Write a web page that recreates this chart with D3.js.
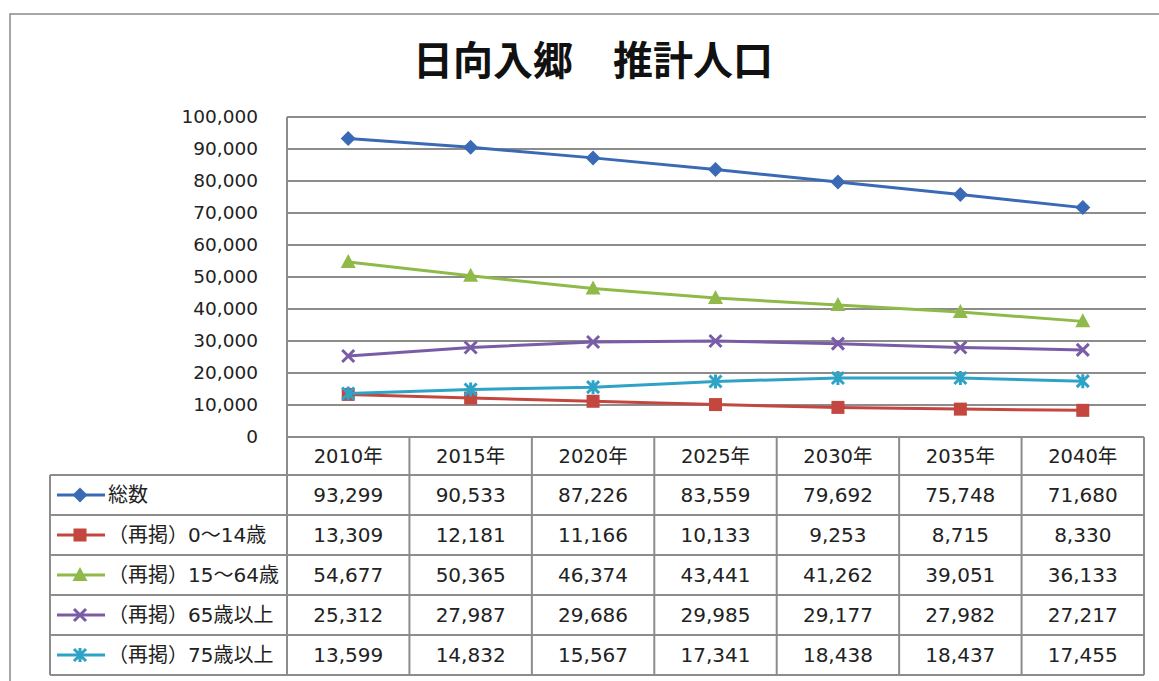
<!DOCTYPE html>
<html>
<head>
<meta charset="utf-8">
<script src="https://cdn.jsdelivr.net/npm/d3@7"></script>
<style>
  body { margin: 0; background: #fff; }
  svg { display: block; font-family: "DejaVu Sans", "Noto Sans CJK JP", sans-serif; }
</style>
</head>
<body>
<div id="chart"></div>
<script>
// data
const years = ["2010年", "2015年", "2020年", "2025年", "2030年", "2035年", "2040年"];
const seriesNames = ["総数", "（再掲）0～14歳", "（再掲）15～64歳", "（再掲）65歳以上", "（再掲）75歳以上"];
const total = [93299, 90533, 87226, 83559, 79692, 75748, 71680];
const age0to14 = [13309, 12181, 11166, 10133, 9253, 8715, 8330];
const age15to64 = [54677, 50365, 46374, 43441, 41262, 39051, 36133];
const age65plus = [25312, 27987, 29686, 29985, 29177, 27982, 27217];
const age75plus = [13599, 14832, 15567, 17341, 18438, 18437, 17455];
const yTicks = [0, 10000, 20000, 30000, 40000, 50000, 60000, 70000, 80000, 90000, 100000];

const colors = ["#3a6ab5", "#c4473f", "#8fba4a", "#7a5ca6", "#2ea3c6"];
const markers = ["diamond", "square", "triangle", "x", "star"];
const values = [total, age0to14, age15to64, age65plus, age75plus];

const width = 1159, height = 681;
const svg = d3.select("#chart").append("svg")
    .attr("width", width)
    .attr("height", height);

// outer frame (runs off the page right and bottom)
svg.append("path")
    .attr("d", "M10,681 L10,14 L1159,14")
    .attr("fill", "none")
    .attr("stroke", "#8a8a8a")
    .attr("stroke-width", 1.5);

// title
svg.append("text")
    .attr("x", 593)
    .attr("y", 75)
    .attr("text-anchor", "middle")
    .attr("font-size", 40)
    .attr("font-weight", "bold")
    .attr("font-family", "'Noto Sans CJK JP', sans-serif")
    .attr("fill", "#111")
    .text("日向入郷　推計人口");

// scales
const plotLeft = 287, plotRight = 1144, plotTop = 117, plotBottom = 437;
const x = d3.scaleBand().domain(years).range([plotLeft, plotRight]);
const y = d3.scaleLinear().domain([0, 100000]).range([plotBottom, plotTop]);
const cx = (i) => x(years[i]) + x.bandwidth() / 2;

// gridlines
svg.append("g")
    .selectAll("line")
    .data(yTicks.filter(d => d > 0))
    .join("line")
    .attr("x1", plotLeft)
    .attr("x2", plotRight + 2)
    .attr("y1", d => y(d))
    .attr("y2", d => y(d))
    .attr("stroke", "#8c8c8c")
    .attr("stroke-width", 2);

// left border of plot
svg.append("line")
    .attr("x1", plotLeft).attr("x2", plotLeft)
    .attr("y1", plotTop).attr("y2", plotBottom)
    .attr("stroke", "#8c8c8c")
    .attr("stroke-width", 2);

// y axis labels
const yAxis = svg.append("g")
    .attr("transform", `translate(${plotLeft - 29},0)`)
    .call(d3.axisLeft(y).tickValues(yTicks).tickSize(0).tickFormat(d3.format(",")));
yAxis.select(".domain").remove();
yAxis.selectAll("text")
    .attr("x", 0)
    .attr("font-size", 18.5)
    .attr("font-family", "'DejaVu Sans', sans-serif")
    .attr("fill", "#222");

// marker drawing
function drawMarker(g, type, color) {
  if (type === "diamond") {
    g.append("path").attr("d", "M0,-7.5 L7.5,0 L0,7.5 L-7.5,0 Z").attr("fill", color);
  } else if (type === "square") {
    g.append("rect").attr("x", -6.5).attr("y", -6.5).attr("width", 13).attr("height", 13).attr("fill", color);
  } else if (type === "triangle") {
    g.append("path").attr("d", "M0,-8 L7.5,6 L-7.5,6 Z").attr("fill", color);
  } else if (type === "x") {
    g.append("path").attr("d", "M-6,-6 L6,6 M-6,6 L6,-6")
      .attr("stroke", color).attr("stroke-width", 3).attr("fill", "none");
  } else if (type === "star") {
    g.append("path").attr("d", "M-6,-6 L6,6 M-6,6 L6,-6 M0,-7 L0,7")
      .attr("stroke", color).attr("stroke-width", 3).attr("fill", "none");
  }
}

// series lines + markers
const line = d3.line()
    .x((d, i) => cx(i))
    .y(d => y(d));

values.forEach((vals, s) => {
  svg.append("path")
      .datum(vals)
      .attr("fill", "none")
      .attr("stroke", colors[s])
      .attr("stroke-width", 3)
      .attr("d", line);
  vals.forEach((v, i) => {
    const g = svg.append("g").attr("transform", `translate(${cx(i)},${y(v)})`);
    drawMarker(g, markers[s], colors[s]);
  });
});

// data table
const tableLeft = 50, headerBottom = 475, rowH = 40;
const tg = svg.append("g").attr("stroke", "#8c8c8c").attr("stroke-width", 2);

// header row (only across category columns)
tg.append("line").attr("x1", plotLeft).attr("x2", plotRight).attr("y1", plotBottom).attr("y2", plotBottom);
// row lines
for (let r = 0; r <= seriesNames.length; r++) {
  const yy = headerBottom + r * rowH;
  tg.append("line").attr("x1", tableLeft).attr("x2", plotRight).attr("y1", yy).attr("y2", yy);
}
// vertical lines
tg.append("line").attr("x1", tableLeft).attr("x2", tableLeft)
    .attr("y1", headerBottom).attr("y2", headerBottom + seriesNames.length * rowH);
years.forEach((yr, i) => {
  tg.append("line").attr("x1", x(yr)).attr("x2", x(yr))
      .attr("y1", plotBottom).attr("y2", headerBottom + seriesNames.length * rowH);
});
tg.append("line").attr("x1", plotRight).attr("x2", plotRight)
    .attr("y1", plotBottom).attr("y2", headerBottom + seriesNames.length * rowH);

// header labels
svg.append("g")
    .selectAll("text")
    .data(years)
    .join("text")
    .attr("x", (d, i) => cx(i))
    .attr("y", (plotBottom + headerBottom) / 2 + 7)
    .attr("text-anchor", "middle")
    .attr("font-size", 19.5)
    .attr("fill", "#222")
    .text(d => d);

// rows
const fmt = d3.format(",");
seriesNames.forEach((name, s) => {
  const rowY = headerBottom + s * rowH + rowH / 2;
  // legend key
  svg.append("line")
      .attr("x1", 57).attr("x2", 105)
      .attr("y1", rowY).attr("y2", rowY)
      .attr("stroke", colors[s]).attr("stroke-width", 3);
  const g = svg.append("g").attr("transform", `translate(80,${rowY})`);
  drawMarker(g, markers[s], colors[s]);
  svg.append("text")
      .attr("x", 108)
      .attr("y", rowY + 7)
      .attr("font-size", 20)
      .attr("fill", "#222")
      .text(name);
  values[s].forEach((v, i) => {
    svg.append("text")
        .attr("x", cx(i))
        .attr("y", rowY + 7)
        .attr("text-anchor", "middle")
        .attr("font-size", 20)
        .attr("fill", "#222")
        .text(fmt(v));
  });
});
</script>
</body>
</html>
